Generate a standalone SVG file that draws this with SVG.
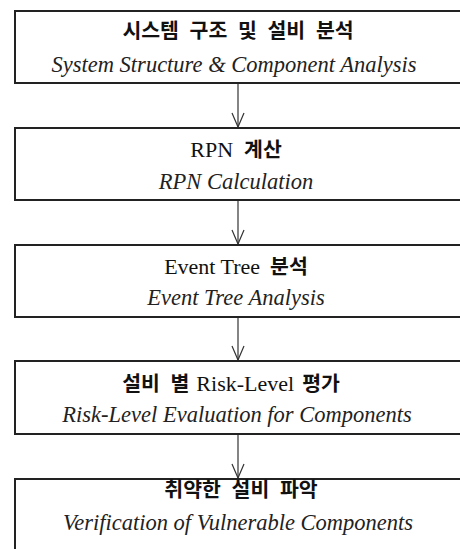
<svg xmlns="http://www.w3.org/2000/svg" width="460" height="549" viewBox="0 0 460 549">
<style>
.box{fill:#fff;stroke:#222;stroke-width:2}
.ko{font-family:"Noto Sans CJK KR",sans-serif;font-weight:bold;font-size:20.5px;fill:#111;word-spacing:6px}
.en{font-family:"Liberation Serif",serif;font-size:22px;fill:#111}
.it{font-family:"Liberation Serif",serif;font-style:italic;font-size:22.5px;fill:#222;text-anchor:middle}
.t{text-anchor:middle}
.conn{stroke:#333;stroke-width:1.2;fill:none}
</style>
<defs>
<marker id="v" markerWidth="16" markerHeight="14" refX="15" refY="7" orient="auto" markerUnits="userSpaceOnUse" viewBox="0 0 16 14">
<path d="M1,1 L15,7 L1,13" fill="none" stroke="#333" stroke-width="1.2"/>
</marker>
</defs>
<rect width="460" height="549" fill="#fff"/>
<g id="connectors">
<line class="conn" x1="238" y1="83" x2="238" y2="127" marker-end="url(#v)"/>
<line class="conn" x1="238" y1="200" x2="238" y2="244" marker-end="url(#v)"/>
<line class="conn" x1="238" y1="317" x2="238" y2="360" marker-end="url(#v)"/>
<line class="conn" x1="238" y1="434" x2="238" y2="478" marker-end="url(#v)"/>
</g>
<g id="n1">
<rect class="box" x="15" y="11" width="460" height="72"/>
<text class="ko t" x="238" y="38">시스템 구조 및 설비 분석</text>
<text class="it" x="234" y="72">System Structure &amp; Component Analysis</text>
</g>
<g id="n2">
<rect class="box" x="15" y="128" width="460" height="72"/>
<text class="t" x="236" y="157"><tspan class="en">RPN</tspan><tspan class="ko" dx="11">계산</tspan></text>
<text class="it" x="236" y="189">RPN Calculation</text>
</g>
<g id="n3">
<rect class="box" x="15" y="245" width="460" height="72"/>
<text class="t" x="236" y="274"><tspan class="en">Event Tree</tspan><tspan class="ko" dx="10">분석</tspan></text>
<text class="it" x="236" y="305">Event Tree Analysis</text>
</g>
<g id="n4">
<rect class="box" x="15" y="361" width="460" height="73"/>
<text class="t" x="231" y="391"><tspan class="ko">설비 별</tspan><tspan class="en" dx="7">Risk-Level</tspan><tspan class="ko" dx="8">평가</tspan></text>
<text class="it" x="237" y="422">Risk-Level Evaluation for Components</text>
</g>
<g id="n5">
<rect class="box" x="15" y="479" width="460" height="100"/>
<text class="ko t" x="241" y="497">취약한 설비 파악</text>
<text class="it" x="238" y="530">Verification of Vulnerable Components</text>
</g>
</svg>
